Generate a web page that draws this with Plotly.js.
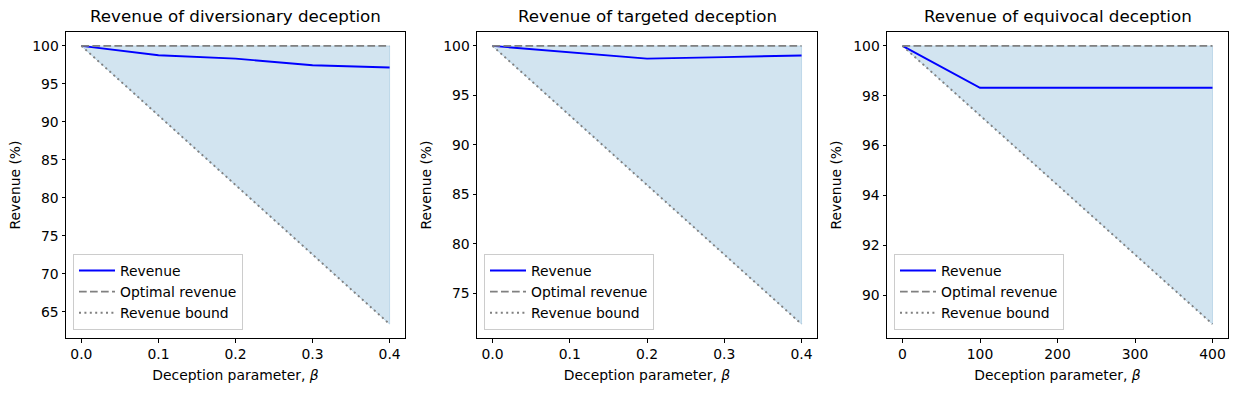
<!DOCTYPE html>
<html>
<head>
<meta charset="utf-8">
<script src="https://cdn.plot.ly/plotly-3.0.1.min.js"></script>
<style>html,body{margin:0;padding:0;background:#fff;}#chart{width:1238px;height:395px;}</style>
</head>
<body>
<div id="chart"></div>
<script>
// ---- data ----
const titles = ["Revenue of diversionary deception", "Revenue of targeted deception", "Revenue of equivocal deception"];
const beta1 = [0, 0.1, 0.2, 0.3, 0.4];
const revenue1 = [100, 98.78, 98.33, 97.45, 97.15];
const optimal1 = [100, 100, 100, 100, 100];
const bound1 = [100, 90.85, 81.7, 72.55, 63.4];

const beta2 = [0, 0.1, 0.2, 0.3, 0.4];
const revenue2 = [100, 99.36, 98.72, 98.87, 99.03];
const optimal2 = [100, 100, 100, 100, 100];
const bound2 = [100, 92.98, 85.95, 78.93, 71.9];

const beta3 = [0, 100, 200, 300, 400];
const revenue3 = [100, 98.32, 98.32, 98.32, 98.32];
const optimal3 = [100, 100, 100, 100, 100];
const bound3 = [100, 97.21, 94.42, 91.63, 88.84];

const xTitle = "Deception parameter, <i>β</i>";
const yTitle = "Revenue (%)";
const legendNames = ["Revenue", "Optimal revenue", "Revenue bound"];

// ---- build ----
const panels = [
  {x: beta1, rev: revenue1, opt: optimal1, bnd: bound1, dtick: 0.1, fmt: ".1f", ydtick: 5},
  {x: beta2, rev: revenue2, opt: optimal2, bnd: bound2, dtick: 0.1, fmt: ".1f", ydtick: 5},
  {x: beta3, rev: revenue3, opt: optimal3, bnd: bound3, dtick: 100, fmt: "d", ydtick: 2}
];
const xDomains = [[66/1238, 405/1238], [477/1238, 817/1238], [887/1238, 1228/1238]];
const yDomain = [1 - 338/395, 1 - 32/395];
const FONT = "DejaVu Sans, Liberation Sans, sans-serif";
const LW = 1.9;

const traces = [];
const layout = {
  width: 1238, height: 395,
  margin: {l: 0, r: 0, t: 0, b: 0},
  paper_bgcolor: "#fff", plot_bgcolor: "#fff",
  font: {family: FONT, size: 13.9, color: "#000"},
  showlegend: true,
  annotations: []
};

panels.forEach((p, i) => {
  const n = i + 1;
  const xa = n === 1 ? "x" : "x" + n;
  const ya = n === 1 ? "y" : "y" + n;
  const lg = n === 1 ? "legend" : "legend" + n;
  // fill between bound and optimal
  traces.push({
    x: p.x.concat(p.x.slice().reverse()),
    y: p.opt.concat(p.bnd.slice().reverse()),
    xaxis: xa, yaxis: ya, mode: "lines", fill: "toself",
    fillcolor: "rgba(31,119,180,0.2)",
    line: {color: "rgba(31,119,180,0.2)", width: 1},
    showlegend: false, hoverinfo: "skip", legend: lg
  });
  traces.push({x: p.x, y: p.rev, xaxis: xa, yaxis: ya, mode: "lines", name: legendNames[0],
    line: {color: "#0000ff", width: LW}, legend: lg});
  traces.push({x: p.x, y: p.opt, xaxis: xa, yaxis: ya, mode: "lines", name: legendNames[1],
    line: {color: "#808080", width: LW, dash: "7.7px,3.3px"}, legend: lg});
  traces.push({x: p.x, y: p.bnd, xaxis: xa, yaxis: ya, mode: "lines", name: legendNames[2],
    line: {color: "#808080", width: LW, dash: "2px,3.4px"}, legend: lg});

  const xmin = Math.min(...p.x), xmax = Math.max(...p.x);
  const allY = p.rev.concat(p.opt, p.bnd);
  const ymin = Math.min(...allY), ymax = Math.max(...allY);
  const xm = 0.05 * (xmax - xmin), ym = 0.05 * (ymax - ymin);

  const axCommon = {
    showline: true, linecolor: "#000", linewidth: 1, mirror: true,
    ticks: "outside", ticklen: 3.5, tickwidth: 1, tickcolor: "#000",
    showgrid: false, zeroline: false, tickfont: {size: 13.9, family: FONT},
    automargin: false
  };
  layout["xaxis" + (n === 1 ? "" : n)] = Object.assign({}, axCommon, {
    domain: xDomains[i], anchor: ya,
    range: [xmin - xm, xmax + xm], tick0: 0, dtick: p.dtick, tickformat: p.fmt,
    title: {text: xTitle, font: {size: 13.9, family: FONT}, standoff: 9}
  });
  layout["yaxis" + (n === 1 ? "" : n)] = Object.assign({}, axCommon, {
    domain: yDomain, anchor: xa,
    range: [ymin - ym, ymax + ym], tick0: 0, dtick: p.ydtick,
    title: {text: yTitle, font: {size: 13.9, family: FONT}, standoff: 8}
  });
  layout[lg] = {
    x: xDomains[i][0] + 7/1238, y: yDomain[0] + 8/395, xanchor: "left", yanchor: "bottom",
    xref: "paper", yref: "paper",
    bgcolor: "rgba(255,255,255,0.8)", bordercolor: "#cccccc", borderwidth: 1,
    font: {size: 13.9, family: FONT}, itemwidth: 36, tracegroupgap: 0
  };
  layout.annotations.push({
    text: titles[i], xref: "paper", yref: "paper",
    x: (xDomains[i][0] + xDomains[i][1]) / 2, y: yDomain[1],
    xanchor: "center", yanchor: "bottom", yshift: 4, showarrow: false,
    font: {size: 16.7, family: FONT, color: "#000"}
  });
});

Plotly.newPlot("chart", traces, layout, {displayModeBar: false, staticPlot: true});
</script>
</body>
</html>
